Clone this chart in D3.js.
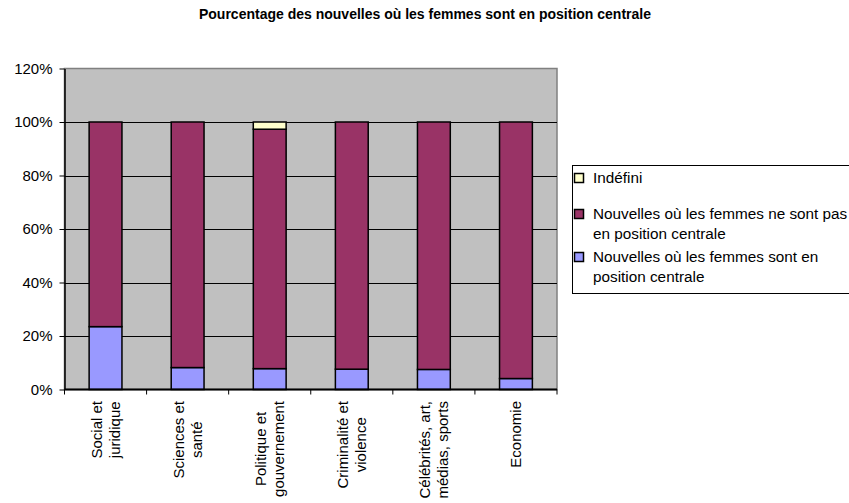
<!DOCTYPE html>
<html>
<head>
<meta charset="utf-8">
<script src="https://cdn.jsdelivr.net/npm/d3@7"></script>
<style>
  body { margin: 0; background: #fff; }
  svg { font-family: "Liberation Sans", Arial, sans-serif; }
</style>
</head>
<body>
<svg id="chart" width="849" height="503"></svg>
<script>
// Data (percent)
const categories = [
  ["Social et", "juridique"],
  ["Sciences et", "santé"],
  ["Politique et", "gouvernement"],
  ["Criminalité et", "violence"],
  ["Célébrités, art,", "médias, sports"],
  ["Economie"]
];
const centrale = [23.5, 8.2, 7.8, 7.6, 7.5, 4.1];
const pasCentrale = [76.5, 91.8, 89.5, 92.4, 92.5, 95.9];
const indefini = [0, 0, 2.7, 0, 0, 0];
const yTicks = [0, 20, 40, 60, 80, 100, 120];

const seriesKeys = ["centrale", "pas", "indef"];
const colors = { centrale: "#9999FF", pas: "#993366", indef: "#FFFFCC" };
const legendItems = [
  { key: "indef", lines: ["Indéfini"] },
  { key: "pas", lines: ["Nouvelles où les femmes ne sont pas", "en position centrale"] },
  { key: "centrale", lines: ["Nouvelles où les femmes sont en", "position centrale"] }
];

const rows = categories.map((c, i) => ({
  cat: c.join(" "), centrale: centrale[i], pas: pasCentrale[i], indef: indefini[i]
}));

const svg = d3.select("#chart");
const plot = { left: 64.5, right: 557, top: 68.5, bottom: 389.5 };

const x = d3.scaleBand().domain(rows.map(d => d.cat)).range([plot.left, plot.right]).padding(0);
const y = d3.scaleLinear().domain([0, 120]).range([plot.bottom, plot.top]);

// Title
svg.append("text")
  .attr("x", 425).attr("y", 19)
  .attr("text-anchor", "middle")
  .attr("font-size", 14).attr("font-weight", "bold")
  .text("Pourcentage des nouvelles où les femmes sont en position centrale");

// Plot background
svg.append("rect")
  .attr("x", plot.left).attr("y", plot.top)
  .attr("width", plot.right - plot.left).attr("height", plot.bottom - plot.top)
  .attr("fill", "#C0C0C0").attr("stroke", "#808080").attr("stroke-width", 1.5);

// Gridlines
svg.append("g").selectAll("line")
  .data(yTicks.filter(t => t > 0 && t < 120))
  .enter().append("line")
  .attr("x1", plot.left).attr("x2", plot.right)
  .attr("y1", d => Math.round(y(d)) + 0.5).attr("y2", d => Math.round(y(d)) + 0.5)
  .attr("stroke", "#000").attr("stroke-width", 1);

// Stacked bars
const stacked = d3.stack().keys(seriesKeys)(rows);
const bw = x.bandwidth() * 0.4;
svg.append("g").selectAll("g")
  .data(stacked)
  .enter().append("g")
  .attr("fill", d => colors[d.key])
  .selectAll("rect")
  .data(d => d.filter(p => p[1] - p[0] > 0))
  .enter().append("rect")
  .attr("x", d => x(d.data.cat) + x.bandwidth() * 0.3)
  .attr("y", d => y(d[1]))
  .attr("width", bw)
  .attr("height", d => y(d[0]) - y(d[1]))
  .attr("stroke", "#000").attr("stroke-width", 1.5);

// Y axis
const yAxis = svg.append("g")
  .attr("transform", `translate(${plot.left},0)`)
  .call(d3.axisLeft(y).tickValues(yTicks).tickFormat(d => d + "%").tickSize(5).tickSizeOuter(0));
yAxis.select(".domain").attr("stroke", "#000").attr("stroke-width", 1.5);
yAxis.selectAll(".tick line").attr("stroke", "#000");
yAxis.selectAll(".tick text")
  .attr("font-size", 15).attr("font-family", "Liberation Sans, Arial, sans-serif")
  .attr("fill", "#000").attr("x", -12);

// X axis
const xAxis = svg.append("g")
  .attr("transform", `translate(0,${plot.bottom})`);
xAxis.append("line")
  .attr("x1", plot.left).attr("x2", plot.right)
  .attr("y1", 0).attr("y2", 0)
  .attr("stroke", "#000").attr("stroke-width", 2);
const boundaries = rows.map(d => x(d.cat)).concat([plot.right]);
xAxis.selectAll(".xt")
  .data(boundaries)
  .enter().append("line")
  .attr("class", "xt")
  .attr("x1", d => d).attr("x2", d => d)
  .attr("y1", 0).attr("y2", 5)
  .attr("stroke", "#000");

// Category labels, rotated
const lh = 18;
rows.forEach((r, i) => {
  const lines = categories[i];
  const cx = x(r.cat) + x.bandwidth() / 2;
  const g = svg.append("g");
  const t = g.append("text")
    .attr("text-anchor", "middle")
    .attr("font-size", 15);
  lines.forEach((ln, j) => {
    t.append("tspan")
      .attr("x", 0)
      .attr("y", (j - (lines.length - 1) / 2) * lh + 5)
      .text(ln);
  });
  const maxLen = d3.max(t.selectAll("tspan").nodes(), n => n.getComputedTextLength());
  g.attr("transform", `translate(${cx},${401 + maxLen / 2}) rotate(-90)`);
});

// Legend
const legend = svg.append("g");
legend.append("rect")
  .attr("x", 572.5).attr("y", 165.5)
  .attr("width", 300).attr("height", 128)
  .attr("fill", "#fff").attr("stroke", "#000").attr("stroke-width", 1);
const legendY = [178, 214, 257];
legendItems.forEach((it, i) => {
  legend.append("rect")
    .attr("x", 574.5).attr("y", legendY[i] - 4.5)
    .attr("width", 9).attr("height", 9)
    .attr("fill", colors[it.key]).attr("stroke", "#000").attr("stroke-width", 1.5);
  it.lines.forEach((ln, j) => {
    legend.append("text")
      .attr("x", 593).attr("y", legendY[i] + j * 20 + 5)
      .attr("font-size", 15.3)
      .text(ln);
  });
});
</script>
</body>
</html>
